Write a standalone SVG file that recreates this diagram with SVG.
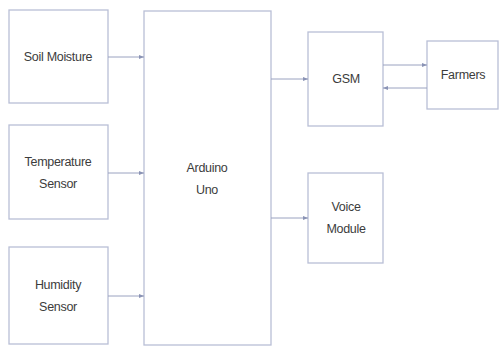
<svg xmlns="http://www.w3.org/2000/svg" width="501" height="347" viewBox="0 0 501 347">
<defs>
<marker id="ah" markerWidth="6" markerHeight="6" refX="5" refY="3" orient="auto" markerUnits="userSpaceOnUse">
<path d="M0,1 L5,3 L0,5 Z" fill="#8a93b5"/>
</marker>
</defs>
<style>
.box{fill:#ffffff;stroke:#b9bfd6;stroke-width:1.3}
.lbl{font-family:"Liberation Sans",Arial,sans-serif;font-size:12.5px;fill:#3c3c3c;text-anchor:middle;letter-spacing:-0.3px}
.con{stroke:#9aa2c0;stroke-width:1;fill:none;marker-end:url(#ah)}
</style>
<rect width="501" height="347" fill="#ffffff"/>
<g id="soil">
<rect class="box" x="9" y="10" width="99" height="93"/>
<text class="lbl" x="58" y="61">Soil Moisture</text>
</g>
<g id="temperature">
<rect class="box" x="9" y="125" width="99" height="94"/>
<text class="lbl" x="58" y="166">Temperature</text>
<text class="lbl" x="58" y="188">Sensor</text>
</g>
<g id="humidity">
<rect class="box" x="9" y="247" width="99" height="97"/>
<text class="lbl" x="58" y="289">Humidity</text>
<text class="lbl" x="58" y="311">Sensor</text>
</g>
<g id="arduino">
<rect class="box" x="144" y="11" width="127" height="334"/>
<text class="lbl" x="207" y="172">Arduino</text>
<text class="lbl" x="207" y="194">Uno</text>
</g>
<g id="gsm">
<rect class="box" x="308" y="32" width="75" height="94"/>
<text class="lbl" x="346" y="83">GSM</text>
</g>
<g id="farmers">
<rect class="box" x="427" y="41" width="71" height="68"/>
<text class="lbl" x="463" y="79">Farmers</text>
</g>
<g id="voice">
<rect class="box" x="308" y="173" width="75" height="90"/>
<text class="lbl" x="346" y="211">Voice</text>
<text class="lbl" x="346" y="233">Module</text>
</g>
<g id="connectors">
<line class="con" x1="108" y1="57" x2="144" y2="57"/>
<line class="con" x1="108" y1="173" x2="144" y2="173"/>
<line class="con" x1="108" y1="296" x2="144" y2="296"/>
<line class="con" x1="271" y1="79" x2="308" y2="79"/>
<line class="con" x1="271" y1="218" x2="308" y2="218"/>
<line class="con" x1="383" y1="65" x2="427" y2="65"/>
<line class="con" x1="427" y1="88" x2="383" y2="88"/>
</g>
</svg>
